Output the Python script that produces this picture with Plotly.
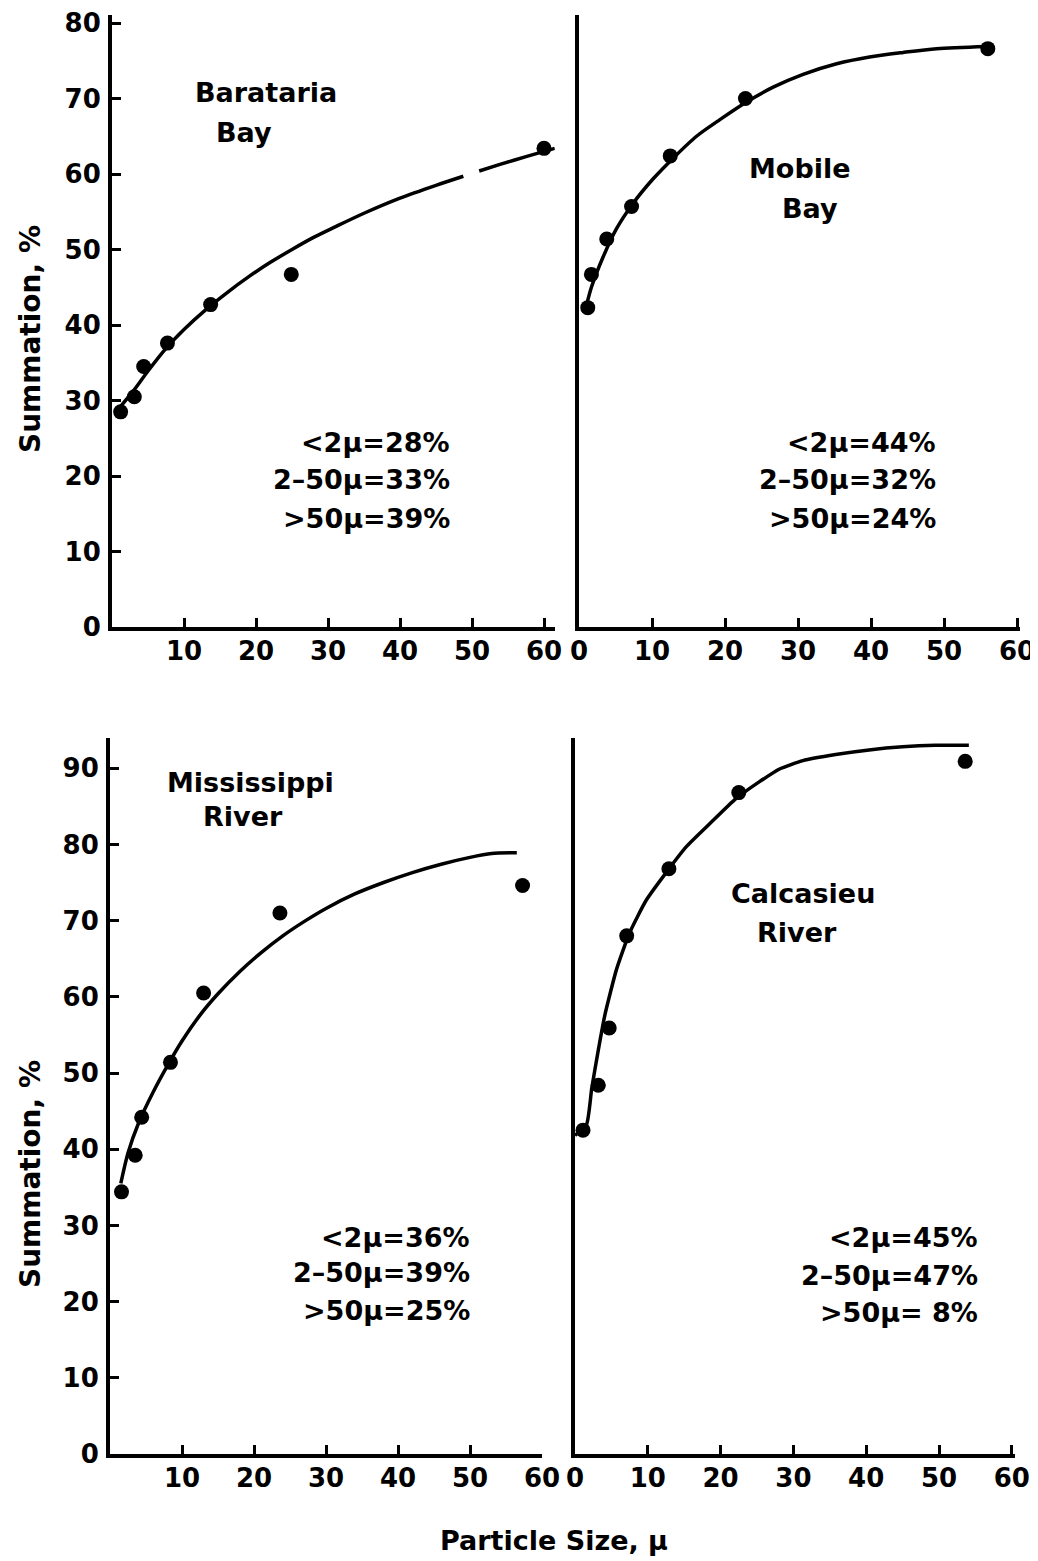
import plotly.graph_objects as go

# ---------------- data ----------------
# Barataria Bay
bar_x = [1.2, 3.1, 4.4, 7.7, 13.7, 24.9, 60.0]
bar_y = [28.5, 30.5, 34.5, 37.6, 42.7, 46.7, 63.4]
bar_fit_x = [1.0, 3.0, 5.0, 7.5, 10.0, 13.0, 16.0, 19.0, 22.0, 25.0, 28.0, 31.0, 35.0, 40.0, 45.0, 48.8,
             None, 51.0, 54.0, 57.5, 61.5]
bar_fit_y = [29.0, 31.3, 33.9, 36.9, 39.4, 42.0, 44.3, 46.4, 48.3, 50.0, 51.6, 53.0, 54.8, 56.8, 58.5, 59.7,
             None, 60.4, 61.3, 62.3, 63.4]

# Mobile Bay
mob_x = [1.2, 1.7, 3.8, 7.2, 12.5, 22.8, 56.0]
mob_y = [42.3, 46.7, 51.4, 55.7, 62.4, 70.0, 76.6]
mob_fit_x = [1.0, 1.7, 3.3, 5.1, 7.4, 10.1, 12.9, 16.1, 19.3, 22.9, 26.6, 30.7, 35.3, 39.8, 44.4, 49.0, 55.8]
mob_fit_y = [42.5, 45.0, 49.0, 52.7, 56.1, 59.3, 62.1, 65.0, 67.2, 69.5, 71.5, 73.2, 74.6, 75.5, 76.1, 76.6, 76.9]

# Mississippi River
mis_x = [1.6, 3.5, 4.4, 8.4, 13.0, 23.6, 57.3]
mis_y = [34.4, 39.2, 44.2, 51.4, 60.5, 71.0, 74.6]
mis_fit_x = [1.5, 2.5, 4.0, 6.0, 8.0, 10.0, 12.5, 15.0, 18.0, 21.0, 24.0, 27.0, 30.0, 34.0, 38.0, 42.0,
             46.0, 50.0, 53.0, 56.5]
mis_fit_y = [35.5, 39.5, 43.5, 47.5, 51.0, 54.2, 57.6, 60.4, 63.3, 65.8, 68.0, 69.9, 71.6, 73.5, 75.0, 76.3,
             77.4, 78.3, 78.8, 78.9]

# Calcasieu River
cal_x = [1.1, 3.2, 4.7, 7.1, 12.9, 22.5, 53.6]
cal_y = [42.5, 48.4, 55.9, 68.0, 76.8, 86.8, 90.9]
cal_fit_x = [0.0, 1.6, 2.3, 3.2, 4.1, 5.7, 7.5, 9.8, 12.6, 15.3, 18.5, 22.1, 25.3, 28.1, 31.3, 35.8,
             40.4, 45.0, 49.5, 54.1]
cal_fit_y = [41.8, 43.3, 48.0, 53.0, 57.6, 63.6, 68.4, 72.7, 76.4, 79.7, 82.7, 86.0, 88.2, 89.9, 91.0, 91.8,
             92.4, 92.8, 93.0, 93.0]

top_yticks = [0, 10, 20, 30, 40, 50, 60, 70, 80]
bot_yticks = [0, 10, 20, 30, 40, 50, 60, 70, 80, 90]
x_ticks_full = [0, 10, 20, 30, 40, 50, 60]
x_ticks_left = [10, 20, 30, 40, 50, 60]

stats_bar = ["<2μ=28%", "2–50μ=33%", ">50μ=39%"]
stats_mob = ["<2μ=44%", "2–50μ=32%", ">50μ=24%"]
stats_mis = ["<2μ=36%", "2–50μ=39%", ">50μ=25%"]
stats_cal = ["<2μ=45%", "2–50μ=47%", ">50μ= 8%"]

# ---------------- figure ----------------
OFF = 8                      # default page body margin
W, H = 1038 - OFF, 1561 - OFF
FONT = "DejaVu Sans"
fig = go.Figure()

panels = [
    (bar_x, bar_y, bar_fit_x, bar_fit_y, "x", "y", 0.8),
    (mob_x, mob_y, mob_fit_x, mob_fit_y, "x2", "y2", 0.8),
    (mis_x, mis_y, mis_fit_x, mis_fit_y, "x3", "y3", 0.8),
    (cal_x, cal_y, cal_fit_x, cal_fit_y, "x4", "y4", 0.5),
]
for px, py, fx, fy, xa, ya, sm in panels:
    fig.add_trace(go.Scatter(x=fx, y=fy, mode="lines", xaxis=xa, yaxis=ya,
                             line=dict(color="black", width=3.5, shape="spline", smoothing=sm),
                             connectgaps=False, showlegend=False, hoverinfo="skip"))
    fig.add_trace(go.Scatter(x=px, y=py, mode="markers", xaxis=xa, yaxis=ya,
                             marker=dict(color="black", size=15), showlegend=False))

def px2x(p):
    return (p - OFF) / W

def px2y(p):
    return 1 - (p - OFF) / H

tickfont = dict(family=FONT, size=26, color="black", weight="bold")
common_axis = dict(showgrid=False, zeroline=False, showline=True, linecolor="black", linewidth=4,
                   ticks="inside", ticklen=9, tickwidth=3, tickcolor="black", tickfont=tickfont,
                   fixedrange=True, automargin=False)

top_dom = [px2y(627), px2y(627 - 81 * 7.55)]
bot_dom = [px2y(1454), px2y(1454 - 94 * 7.62)]

fig.update_layout(
    width=W, height=H,
    margin=dict(l=0, r=0, t=0, b=0),
    paper_bgcolor="white", plot_bgcolor="white",
    xaxis=dict(common_axis, domain=[px2x(112), px2x(112 + 61.5 * 7.2)], range=[0, 61.5], anchor="y",
               tickvals=x_ticks_left, ticklabelstandoff=-2),
    yaxis=dict(common_axis, domain=top_dom, range=[0, 81], anchor="x",
               tickvals=top_yticks, ticklabelstandoff=2),
    xaxis2=dict(common_axis, domain=[px2x(579), px2x(579 + 60.4 * 7.3)], range=[0, 60.4], anchor="y2",
                tickvals=x_ticks_full, ticklabelstandoff=-2),
    yaxis2=dict(common_axis, domain=top_dom, range=[0, 81], anchor="x2",
                showticklabels=False, ticks=""),
    xaxis3=dict(common_axis, domain=[px2x(110), px2x(110 + 60 * 7.2)], range=[0, 60], anchor="y3",
                tickvals=x_ticks_left, ticklabelstandoff=-2),
    yaxis3=dict(common_axis, domain=bot_dom, range=[0, 94], anchor="x3",
                tickvals=bot_yticks, ticklabelstandoff=2),
    xaxis4=dict(common_axis, domain=[px2x(575), px2x(575 + 60.4 * 7.28)], range=[0, 60.4], anchor="y4",
                tickvals=x_ticks_full, ticklabelstandoff=-2),
    yaxis4=dict(common_axis, domain=bot_dom, range=[0, 94], anchor="x4",
                showticklabels=False, ticks=""),
)

ann = []

def add_text(text, x, y, xanchor="center", angle=0, size=27):
    ann.append(dict(text=text, x=px2x(x), y=px2y(y), xref="paper", yref="paper",
                    xanchor=xanchor, yanchor="middle", showarrow=False, textangle=angle,
                    font=dict(family=FONT, size=size, color="black", weight="bold")))

# site names
add_text("Barataria", 266, 92)
add_text("Bay", 244, 132)
add_text("Mobile", 800, 168)
add_text("Bay", 810, 208)
add_text("Mississippi", 250, 782)
add_text("River", 243, 816)
add_text("Calcasieu", 803, 893)
add_text("River", 797, 932)

# stats
for lines, xr, ys in [(stats_bar, 452, [443, 480, 518]),
                      (stats_mob, 938, [443, 480, 518]),
                      (stats_mis, 472, [1237, 1272, 1310]),
                      (stats_cal, 980, [1237, 1275, 1312])]:
    for t, yy in zip(lines, ys):
        add_text(t, xr, yy, xanchor="right")

# axis titles
add_text("Summation, %", 30, 339, angle=-90, size=28)
add_text("Summation, %", 30, 1174, angle=-90, size=28)
add_text("Particle Size, μ", 554, 1540, size=27)

fig.update_layout(annotations=ann)
fig.write_html("out.html")
